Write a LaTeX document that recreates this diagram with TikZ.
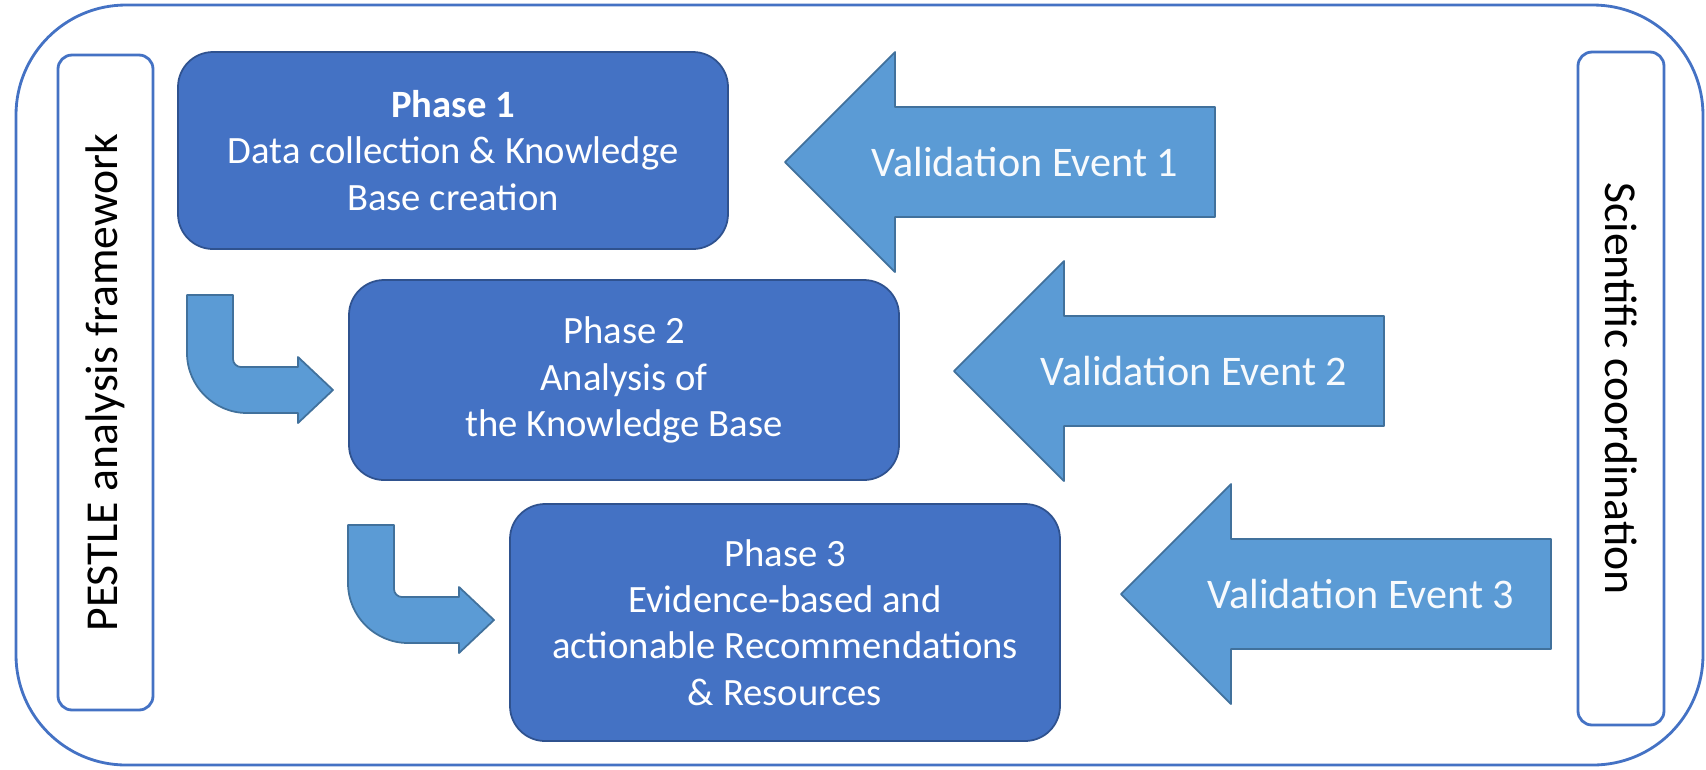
\documentclass[tikz,border=0pt]{standalone}
\usepackage{fontspec}
\setmainfont{Carlito}
\definecolor{phaseblue}{HTML}{4472C4}
\definecolor{phaseedge}{HTML}{2F528F}
\definecolor{eventblue}{HTML}{5B9BD5}
\definecolor{eventedge}{HTML}{41719C}
\begin{document}
\begin{tikzpicture}[x=0.1mm,y=-0.1mm,line join=round]
    \tikzstyle{phase}=[rounded corners=3.5mm,draw=phaseedge,line width=0.5pt,fill=phaseblue,text=white,align=center,minimum width=55mm,inner sep=0pt,font=\fontsize{11}{13.2}\selectfont]
    \tikzstyle{side}=[rounded corners=1.4mm,draw=phaseblue,line width=0.8pt,fill=white,inner sep=0pt,font=\fontsize{13}{15.6}\selectfont]
    \tikzstyle{event}=[draw=eventedge,fill=eventblue,line width=0.5pt]
    \tikzstyle{eventtext}=[text=white!95!eventblue,font=\fontsize{12}{14.4}\selectfont]
    \useasboundingbox (0,0) rectangle (1706,769);
    \draw[draw=phaseblue,line width=0.8pt,rounded corners=11mm] (16,5) rectangle (1703,765);

    \node[side,rotate=90,minimum width=65.5mm,minimum height=9.5mm] (PESTLE) at (105.5,382.5) {PESTLE analysis framework};
    \node[side,rotate=-90,minimum width=67.3mm,minimum height=8.6mm] (SC) at (1621,388.5) {Scientific coordination};

    \node[phase,minimum height=19.7mm] (P-1) at (453,150.5) {\textbf{Phase 1}\\Data collection \& Knowledge\\Base creation};
    \node[phase,minimum height=20mm] (P-2) at (624,380) {Phase 2\\Analysis of\\the Knowledge Base};
    \node[phase,minimum height=23.7mm] (P-3) at (785,622.5) {Phase 3\\Evidence-based and\\actionable Recommendations\\\& Resources};

    \foreach \num/\x/\y in {1/785/162, 2/954/371, 3/1121/594}
    {
        \draw[event] (\x,\y) -- ({\x+110},{\y-110}) -- ({\x+110},{\y-55}) -- ({\x+430},{\y-55})
            -- ({\x+430},{\y+55}) -- ({\x+110},{\y+55}) -- ({\x+110},{\y+110}) -- cycle;
        \node[eventtext] (E-\num) at ({\x+240},\y) {Validation Event \num};
    }

    \foreach \num/\x/\y in {1/187/295, 2/348/525}
        \draw[event,shift={(\x,\y)}] (0,0) -- (46,0) -- (46,64) .. controls (46,68.4) and (49.6,72) .. (54,72)
            -- (111,72) -- (111,62) -- (146,95) -- (111,128) -- (111,118) -- (60,118)
            .. controls (27,118) and (0,91) .. (0,58) -- cycle;
\end{tikzpicture}
\end{document}
